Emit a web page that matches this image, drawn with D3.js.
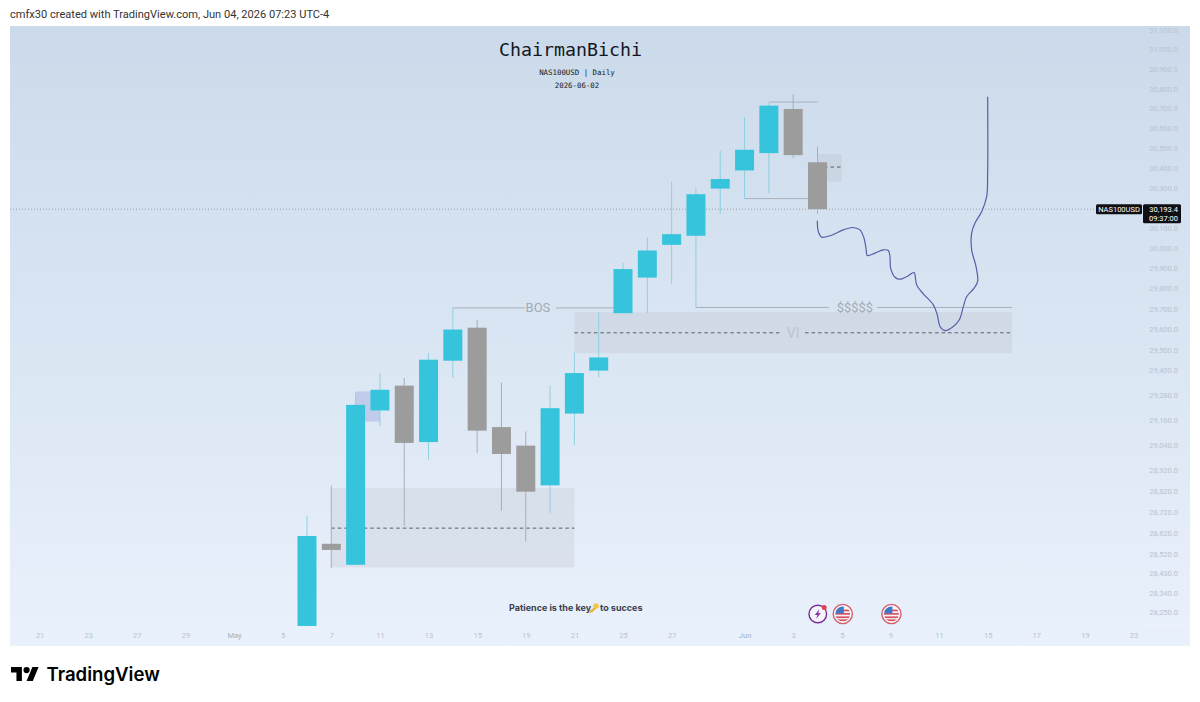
<!DOCTYPE html>
<html>
<head>
<meta charset="utf-8">
<style>
  html, body { margin: 0; padding: 0; background: #fff; }
  svg { display: block; }
  text { font-family: Roboto, sans-serif; }
</style>
<script src="https://cdn.jsdelivr.net/npm/d3@7/dist/d3.min.js"></script>
</head>
<body>
<svg id="chart" width="1200" height="702"></svg>
<script>
// Session index 0 is 21 Apr; candles start at session 11 (6 May).
const firstCandle = 11;
const opens  = [28185,28570,28471,29206,29326,29054,29447,29608,29126,29037,28847,29191,29399,29679,29854,30016,30061,30296,30387,30474,30697,30428];
const highs  = [28702,28845,29291,29387,29363,29484,29705,29647,29341,29105,29326,29484,29684,29929,30054,30330,30298,30487,30655,30727,30773,30507];
const lows   = [28185,28456,28471,29132,28655,28970,29364,29003,28726,28581,28715,29041,29366,29679,29679,29823,29706,30170,30246,30274,30450,30170];
const closes = [28607,28541,29233,29306,29050,29452,29599,29109,28997,28817,29217,29387,29463,29896,29988,30069,30268,30344,30491,30714,30464,30193.4];

// Price axis labels (log scale)
const priceTicks = [31100,31000,30900,30800,30700,30600,30500,30400,30300,30100,30000,29900,29800,29700,29600,29500,29400,29280,29160,29040,28920,28820,28720,28620,28520,28430,28340,28250];

// Time axis labels by session index
const timeTickDays   = [0,2,4,6,8,10,12,14,16,18,20,22,24,26,29,31,33,35,37,39,41,43,45];
const timeTickLabels = ["21","23","27","29","May","5","7","11","13","15","19","21","25","27","Jun","3","5","9","11","15","17","19","23"];

// Shaded zones: start day, end day, upper price, lower price, mid price
const zoneDays   = [[12,22],[22,40],[32,33]];
const zoneTops   = [28834,29684,30469];
const zoneBots   = [28459,29484,30331];
const zoneMids   = [28644,29583,30404];

// Small highlighted imbalance behind the 11 May candle
const imbalanceDays = [13,14];
const imbalancePrices = [29298,29153];

// Horizontal drawing segments: start day, end day, price
const levelSegments = [
  [17,19.97,29705],[21.24,24,29705],
  [27,32.47,29707],[34.45,40,29707],
  [30,32,30732],
  [29,32,30246]
];
const levelText = [["BOS",20.5,29705],["$$$$$",33.54,29707]];

// Hand-drawn projected path
const pathDays = [31.993,32.034,32.171,32.514,33.063,33.446,33.748,33.913,33.995,34.05,34.365,34.708,34.914,34.982,35.01,35.188,35.394,35.736,35.97,36.079,36.353,36.765,36.929,37.039,37.245,37.588,37.834,37.999,38.136,38.41,38.589,38.52,38.342,38.342,38.479,38.753,38.959,39,39];
const pathPrices = [30135,30082,30054,30061,30090,30102,30090,30049,30000,29963,29975,29991,29988,29958,29901,29856,29846,29863,29879,29818,29774,29720,29671,29614,29594,29614,29647,29711,29760,29797,29835,29909,29991,30074,30124,30181,30256,30373,30759];

const lastPrice = 30193.4;
const eventDays = [33, 35];
const alertDay = 32;

const pane = {x: 10, y: 26, w: 1180, h: 620};
const svg = d3.select("#chart");

const x = d3.scaleLinear().domain([0,45]).range([39.6,1133.5]);
const y = d3.scaleLog().domain([28250,31100]).range([612,30]);

const defs = svg.append("defs");
const bg = defs.append("linearGradient").attr("id","paneBg").attr("x1",0).attr("y1",0).attr("x2",0).attr("y2",1);
bg.append("stop").attr("offset",0).attr("stop-color","#cbdaea");
bg.append("stop").attr("offset",1).attr("stop-color","#e9f1fc");

svg.append("text").attr("x",10).attr("y",18)
  .attr("font-size",11.07).attr("fill","#333")
  .text("cmfx30 created with TradingView.com, Jun 04, 2026 07:23 UTC-4");

svg.append("rect").attr("x",pane.x).attr("y",pane.y).attr("width",pane.w).attr("height",pane.h).attr("fill","url(#paneBg)");

// Title block
const mono = "'DejaVu Sans Mono', monospace";
svg.append("text").attr("x",570.5).attr("y",56).attr("text-anchor","middle")
  .attr("font-size",18.3).attr("fill","#131722").style("font-family",mono).text("ChairmanBichi");
svg.append("text").attr("x",577).attr("y",75).attr("text-anchor","middle")
  .attr("font-size",7.4).attr("fill","#131722").style("font-family",mono).text("NAS100USD | Daily");
svg.append("text").attr("x",577).attr("y",88).attr("text-anchor","middle")
  .attr("font-size",7.4).attr("fill","#131722").style("font-family",mono).text("2026-06-02");

// Price axis
const yAxis = svg.append("g").attr("transform","translate(1178,0)")
  .call(d3.axisRight(y).tickValues(priceTicks).tickFormat(d3.format(",.1f")).tickSize(0).tickPadding(0));
yAxis.select(".domain").remove();
yAxis.selectAll("text").attr("text-anchor","end").attr("font-size",7.5).attr("fill","#b8c3cf").style("font-family","Roboto");

// Time axis
const xAxis = svg.append("g").attr("transform","translate(0,633)")
  .call(d3.axisBottom(x).tickValues(timeTickDays).tickFormat((d,i)=>timeTickLabels[i]).tickSize(0).tickPadding(0));
xAxis.select(".domain").remove();
xAxis.selectAll("text").attr("font-size",7.5).style("font-family","Roboto")
  .attr("fill",(d,i)=>/[A-Z]/.test(timeTickLabels[i]) ? "#a6b0bc" : "#b8c3cf");

svg.append("line").attr("x1",1145).attr("x2",pane.x+pane.w).attr("y1",625.5).attr("y2",625.5)
  .attr("stroke","#f0f5fc").attr("stroke-width",1);

// Zones
svg.append("g").selectAll("rect").data(zoneDays).join("rect")
  .attr("x",d=>x(d[0])).attr("width",d=>x(d[1])-x(d[0]))
  .attr("y",(d,i)=>y(zoneTops[i])).attr("height",(d,i)=>y(zoneBots[i])-y(zoneTops[i]))
  .attr("fill","#a3a3ab").attr("fill-opacity",0.16);

svg.append("rect")
  .attr("x",x(imbalanceDays[0])).attr("width",x(imbalanceDays[1])-x(imbalanceDays[0]))
  .attr("y",y(imbalancePrices[0])).attr("height",y(imbalancePrices[1])-y(imbalancePrices[0]))
  .attr("fill","#b9c4ea").attr("fill-opacity",0.8);

// Mid-lines of the zones; the VI label interrupts the long one
const dash = svg.append("g").attr("stroke","#5a5f68").attr("stroke-width",1).attr("stroke-dasharray","3.5 3");
const viGap = [30.54,31.49];
[[zoneDays[0][0],zoneDays[0][1],zoneMids[0]],
 [zoneDays[1][0],viGap[0],zoneMids[1]],
 [viGap[1],zoneDays[1][1],zoneMids[1]],
 [zoneDays[2][0],zoneDays[2][1],zoneMids[2]]].forEach(s=>{
  dash.append("line").attr("x1",x(s[0])).attr("x2",x(s[1])).attr("y1",y(s[2])).attr("y2",y(s[2]));
});
svg.append("text").attr("x",x(31)).attr("y",y(zoneMids[1])+5).attr("text-anchor","middle")
  .attr("font-size",14).attr("fill","#bcc3cc").text("VI");

// Level lines with their labels
svg.append("g").selectAll("line").data(levelSegments).join("line")
  .attr("x1",d=>x(d[0])).attr("x2",d=>x(d[1])).attr("y1",d=>y(d[2])).attr("y2",d=>y(d[2]))
  .attr("stroke","#a9b1ba").attr("stroke-width",1);
svg.append("g").selectAll("text").data(levelText).join("text")
  .attr("x",d=>x(d[1])).attr("y",d=>y(d[2])+4.5).attr("text-anchor","middle")
  .attr("font-size",13).attr("fill","#a3abb5").text(d=>d[0]);

// Last price line
svg.append("line").attr("x1",pane.x).attr("x2",1096).attr("y1",y(lastPrice)).attr("y2",y(lastPrice))
  .attr("stroke","#98a3af").attr("stroke-width",1).attr("stroke-dasharray","1 2");

// Candles
const up = "#36c4dc", down = "#9c9c9c", bodyW = 19;
const candles = d3.range(opens.length).map(i=>({day:firstCandle+i,o:opens[i],h:highs[i],l:lows[i],c:closes[i]}));
const cg = svg.append("g");
cg.selectAll("line").data(candles).join("line")
  .attr("x1",d=>x(d.day)).attr("x2",d=>x(d.day))
  .attr("y1",d=>y(d.h)).attr("y2",d=>y(d.l))
  .attr("stroke",d=>d.c>=d.o?"#8fd0de":"#a6afb8").attr("stroke-width",1);
cg.selectAll("rect").data(candles).join("rect")
  .attr("x",d=>x(d.day)-bodyW/2).attr("width",bodyW)
  .attr("y",d=>y(Math.max(d.o,d.c)))
  .attr("height",d=>Math.abs(y(d.o)-y(d.c)))
  .attr("fill",d=>d.c>=d.o?up:down);

// Projected path
svg.append("path")
  .datum(d3.range(pathDays.length))
  .attr("fill","none").attr("stroke","#585da8").attr("stroke-width",1.2)
  .attr("d",d3.line().x(i=>x(pathDays[i])).y(i=>y(pathPrices[i])).curve(d3.curveCatmullRom.alpha(0.5)));

// Price scale labels
const lab = svg.append("g");
const ly = y(lastPrice);
lab.append("rect").attr("x",1096).attr("y",ly-5).attr("width",46).attr("height",10).attr("rx",1.5).attr("fill","#0f0f14");
lab.append("text").attr("x",1119).attr("y",ly+2.7).attr("text-anchor","middle").attr("font-size",7.5).attr("fill","#fff").text("NAS100USD");
lab.append("rect").attr("x",1143).attr("y",ly-5).attr("width",38).attr("height",19).attr("rx",1.5).attr("fill","#0f0f14");
lab.append("text").attr("x",1178).attr("y",ly+2.7).attr("text-anchor","end").attr("font-size",7.5).attr("fill","#fff").text(d3.format(",.1f")(lastPrice));
lab.append("text").attr("x",1178).attr("y",ly+11.5).attr("text-anchor","end").attr("font-size",7.5).attr("fill","#fff").text("09:37:00");

// Footer note with a small gold key
const note = svg.append("g").attr("font-size",9).attr("font-weight",700).attr("fill","#3a3e4d");
note.append("text").attr("x",509).attr("y",611).style("font-family","Inter").text("Patience is the key");
note.append("text").attr("x",600).attr("y",611).style("font-family","Inter").text("to succes");
const key = svg.append("g").attr("transform","translate(588,603)");
key.append("circle").attr("cx",8).attr("cy",3).attr("r",2.8).attr("fill","#f3c64a");
key.append("path").attr("d","M6.4 4.2 L0.6 8.8 L1.6 10 L3 9.2 L3.8 9.8 L8 6 Z").attr("fill","#e8b53a");

// Event markers on the chart floor
const ey = 614;
const alert = svg.append("g").attr("transform",`translate(${x(alertDay)+0.3},${ey})`);
alert.append("circle").attr("r",8.8).attr("fill","#f4f6fb").attr("stroke","#7a2a96").attr("stroke-width",1.4);
alert.append("path").attr("d","M1.6 -5 L-3 1 L-0.4 1 L-1.6 5 L3 -1 L0.4 -1 Z").attr("fill","#8a3aa0");
alert.append("circle").attr("cx",6.4).attr("cy",-6.6).attr("r",2.5).attr("fill","#e0404f");

defs.append("clipPath").attr("id","flagClip").append("circle").attr("r",7.4);
eventDays.forEach(day=>{
  const g = svg.append("g").attr("transform",`translate(${x(day)+1},${ey})`);
  g.append("circle").attr("r",9.6).attr("fill","#f6f7fb").attr("stroke","#d5606d").attr("stroke-width",1.4);
  const f = g.append("g").attr("clip-path","url(#flagClip)");
  f.append("rect").attr("x",-8).attr("y",-8).attr("width",16).attr("height",16).attr("fill","#f4f4f6");
  [-4.4,-1,2.4,5.4].forEach(s=>f.append("rect").attr("x",-8).attr("y",s).attr("width",16).attr("height",1.7).attr("fill","#d9505f"));
  f.append("rect").attr("x",-8).attr("y",-8).attr("width",9).attr("height",7.4).attr("fill","#3f78c4");
});

// Brand mark and wordmark
svg.append("g").attr("transform","translate(11,663.9) scale(0.778)").attr("fill","#000")
  .call(g=>{
    g.append("path").attr("d","M14 22H7V11H0V4h14v18zM28 22h-8l7.5-18h8L28 22z");
    g.append("circle").attr("cx",20).attr("cy",8).attr("r",4);
  });
svg.append("text").attr("x",46.5).attr("y",681).attr("font-size",18.6).attr("font-weight",600)
  .attr("fill","#000").style("font-family","Inter").text("TradingView");
</script>
</body>
</html>
